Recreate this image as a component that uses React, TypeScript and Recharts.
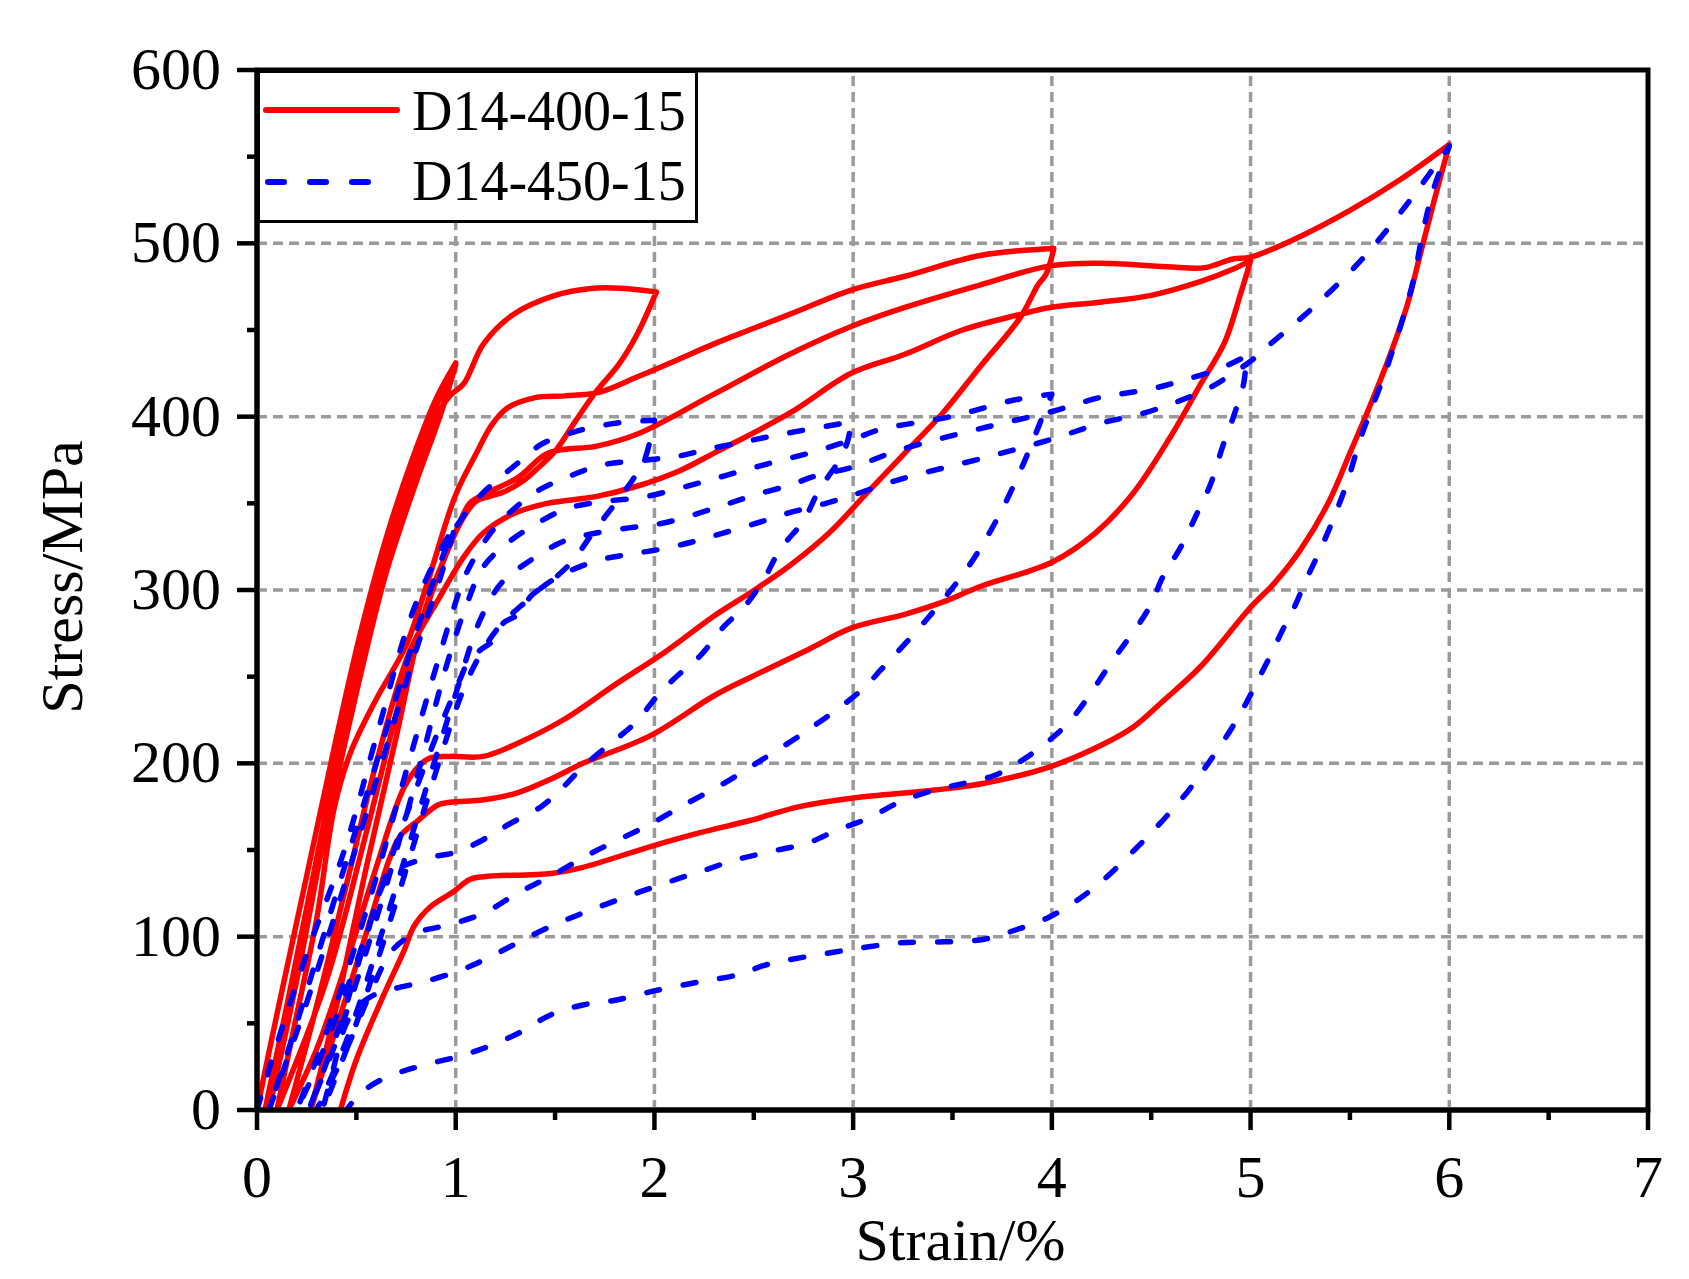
import React from 'react';
import { LineChart, Line, XAxis, YAxis, ReferenceLine, ReferenceArea, Legend } from 'recharts';

type Pt = [number, number];

// axis ticks and grid
const xTicks = [0, 0.5, 1, 1.5, 2, 2.5, 3, 3.5, 4, 4.5, 5, 5.5, 6, 6.5, 7];
const yTicks = [0, 50, 100, 150, 200, 250, 300, 350, 400, 450, 500, 550, 600];
const xGrid = [1, 2, 3, 4, 5, 6];
const yGrid = [100, 200, 300, 400, 500];

// D14-400-15, branches in loading order: [strain %, stress MPa]
const redCycle1: Pt[] = [[0, 0], [0.1, 55], [0.25, 135], [0.4, 215], [0.52, 275], [0.65, 330], [0.78, 375], [0.9, 410], [1.0, 431], [0.94, 408], [0.82, 372], [0.68, 325], [0.57, 283], [0.42, 205], [0.25, 110], [0.1, 30], [0.04, 0]];
const redCycle2: Pt[] = [[0.15, 60], [0.3, 145], [0.45, 230], [0.55, 280], [0.7, 338], [0.84, 390], [0.95, 418], [1.0, 430], [0.92, 400], [0.8, 362], [0.65, 310], [0.55, 265], [0.4, 190], [0.22, 95], [0.06, 0]];
const redLoad2: Pt[] = [[0.2, 75], [0.35, 165], [0.5, 250], [0.6, 290], [0.75, 350], [0.88, 395], [0.97, 412], [1.04, 419], [1.14, 442], [1.29, 459], [1.5, 470], [1.68, 474], [1.85, 474], [2.01, 472]];
const redUnload2: Pt[] = [[1.915, 448], [1.82, 430], [1.71, 415], [1.6, 397], [1.5, 380], [1.42, 371], [1.34, 363], [1.25, 357], [1.17, 354], [1.1, 351], [1.02, 338], [0.9, 305], [0.75, 250], [0.55, 160], [0.35, 75], [0.1, 0]];
const redLoad4: Pt[] = [[0.2, 55], [0.3, 110], [0.39, 175], [0.47, 206], [0.6, 237], [0.75, 268], [0.86, 305], [1.0, 355], [1.1, 378], [1.18, 395], [1.26, 405], [1.4, 411], [1.55, 412], [1.72, 414], [1.915, 423], [2.1, 432], [2.3, 442], [2.5, 451], [2.68, 459], [2.99, 473], [3.26, 481], [3.64, 493], [4.01, 497]];
const redUnload4: Pt[] = [[3.97, 482], [3.93, 476], [3.84, 457], [3.64, 429], [3.45, 402], [3.26, 379], [3.07, 356], [2.88, 333], [2.68, 314], [2.49, 299], [2.3, 285], [2.05, 264], [1.81, 246], [1.54, 225], [1.31, 211.5], [1.14, 204], [0.97, 204], [0.87, 203], [0.82, 199], [0.74, 186], [0.6, 140], [0.45, 85], [0.3, 35], [0.16, 0]];
const redLoad5: Pt[] = [[0.3, 60], [0.45, 130], [0.6, 200], [0.77, 265], [0.91, 294], [1.04, 319], [1.14, 333], [1.29, 344], [1.46, 350], [1.71, 354], [1.915, 360], [2.13, 369], [2.3, 379], [2.68, 402], [2.99, 425], [3.26, 436], [3.55, 450], [3.84, 459], [3.99, 463], [4.24, 466], [4.5, 470], [4.75, 478], [4.91, 485], [5.0, 490]];
const redUnload5: Pt[] = [[4.95, 471], [4.87, 443], [4.75, 419], [4.6, 389], [4.41, 356], [4.22, 333], [4.0, 316], [3.64, 302], [3.45, 293], [3.26, 286], [2.99, 278], [2.78, 266], [2.49, 250], [2.3, 239], [1.98, 216], [1.64, 200], [1.48, 191], [1.31, 183], [1.14, 179], [0.97, 177.5], [0.91, 176], [0.81, 167], [0.72, 158], [0.67, 146], [0.55, 102], [0.39, 44], [0.27, 0]];
const redLoad6: Pt[] = [[0.4, 60], [0.55, 140], [0.7, 215], [0.85, 290], [1.01, 336], [1.07, 350], [1.14, 355], [1.315, 365], [1.466, 379], [1.71, 383], [1.915, 390], [2.3, 413], [2.68, 436], [2.99, 452], [3.26, 463], [3.64, 476], [3.99, 487], [4.24, 488.5], [4.58, 486.5], [4.77, 486], [4.91, 491], [5.0, 492], [5.25, 504], [5.5, 519], [5.75, 536.5], [6.0, 557]];
const redUnload6: Pt[] = [[5.92, 523], [5.85, 492], [5.79, 465], [5.7, 435], [5.6, 406], [5.5, 379], [5.39, 350], [5.25, 323], [5.12, 304], [5.0, 290], [4.75, 256], [4.56, 236], [4.41, 221], [4.24, 210], [3.99, 198], [3.66, 188.5], [3.41, 184.6], [3.0, 180], [2.73, 175], [2.48, 167], [2.23, 160], [1.98, 152], [1.64, 140], [1.48, 136.5], [1.14, 134.6], [1.07, 133], [0.99, 126], [0.87, 117], [0.79, 106], [0.74, 92], [0.64, 67], [0.5, 29], [0.42, 0]];

// D14-450-15
const blueCycle1: Pt[] = [[0, 0], [0.1, 38], [0.25, 90], [0.44, 150], [0.6, 215], [0.77, 283], [0.9, 318], [1.0, 338], [0.93, 310], [0.8, 265], [0.6, 190], [0.4, 115], [0.2, 45], [0.06, 0]];
const blueLoad2: Pt[] = [[0.2, 50], [0.4, 125], [0.6, 200], [0.8, 275], [0.92, 315], [1.0, 336], [1.12, 354], [1.21, 363.5], [1.31, 373], [1.43, 384], [1.59, 391], [1.79, 396], [2.0, 398]];
const blueUnload2: Pt[] = [[1.95, 375], [1.89, 363.5], [1.79, 348], [1.69, 333], [1.59, 317], [1.49, 306], [1.375, 296], [1.325, 286.5], [1.24, 281], [1.19, 271], [1.12, 265], [1.06, 258], [1.02, 248], [0.9, 215], [0.72, 160], [0.5, 85], [0.3, 25], [0.2, 0]];
const blueLoad3: Pt[] = [[0.35, 45], [0.55, 115], [0.75, 195], [0.9, 255], [1.04, 306], [1.107, 321], [1.19, 335], [1.275, 345], [1.41, 357], [1.56, 365], [1.73, 372], [1.96, 375], [2.11, 377], [2.26, 381], [2.43, 385], [2.6, 389], [2.79, 393], [2.99, 397]];
const blueUnload3: Pt[] = [[2.97, 385], [2.92, 373], [2.83, 358], [2.75, 340], [2.63, 323], [2.55, 306], [2.45, 290], [2.35, 279], [2.23, 262], [2.13, 252], [2.03, 241], [1.9, 223], [1.78, 211.5], [1.64, 198], [1.53, 185], [1.43, 175], [1.27, 165], [1.17, 158], [1.01, 149], [0.84, 145], [0.7, 138.5], [0.64, 131], [0.55, 100], [0.42, 50], [0.26, 0]];
const blueLoad4: Pt[] = [[0.4, 40], [0.6, 110], [0.8, 190], [0.95, 255], [1.05, 290], [1.14, 313.5], [1.26, 327], [1.41, 338.5], [1.56, 347], [1.74, 351], [1.94, 353.5], [2.12, 358.5], [2.28, 363.5], [2.45, 369], [2.61, 374], [2.78, 379], [2.99, 386.5], [3.14, 392.7], [3.49, 400], [3.81, 409.6], [4.0, 413]];
const blueUnload4: Pt[] = [[3.96, 402], [3.85, 371], [3.72, 340], [3.58, 313.5], [3.37, 283], [3.14, 254], [3.04, 242], [2.77, 219], [2.47, 197], [2.35, 188.5], [2.15, 176], [1.98, 165], [1.68, 148], [1.48, 135], [1.31, 125], [1.14, 113.5], [0.97, 107], [0.8, 102], [0.68, 92], [0.58, 70], [0.45, 35], [0.3, 0]];
const blueLoad5: Pt[] = [[0.45, 40], [0.65, 110], [0.85, 185], [1.0, 240], [1.12, 282], [1.23, 304], [1.375, 317], [1.54, 328], [1.7, 332.7], [1.88, 336], [2.04, 338.5], [2.2, 343.5], [2.35, 349], [2.51, 355], [2.68, 360.4], [2.8, 365.4], [3.0, 371], [3.24, 381], [3.65, 393.4], [4.0, 403], [4.24, 411], [4.5, 416], [4.66, 421], [4.83, 427], [4.98, 435]];
const blueUnload5: Pt[] = [[4.965, 419], [4.92, 402], [4.86, 383], [4.8, 361.5], [4.73, 344], [4.65, 325], [4.56, 308], [4.5, 292], [4.43, 279], [4.31, 260], [4.11, 227], [3.99, 213.5], [3.84, 201], [3.71, 193], [3.56, 188.5], [3.41, 184.6], [3.24, 178], [3.07, 168], [2.92, 161.5], [2.77, 154], [2.58, 149], [2.4, 144], [2.23, 137.5], [2.15, 134.6], [1.81, 121], [1.48, 106], [1.14, 86.5], [1.01, 80], [0.84, 74], [0.69, 70], [0.6, 67], [0.52, 61], [0.45, 50], [0.38, 22], [0.33, 0]];
const blueLoad6: Pt[] = [[0.5, 50], [0.7, 120], [0.9, 195], [1.03, 240], [1.12, 262], [1.22, 279], [1.35, 293], [1.49, 306], [1.7, 316.5], [1.87, 320.6], [2.03, 323.5], [2.2, 328], [2.35, 333], [2.52, 338.8], [2.68, 344.6], [2.85, 349.6], [3.0, 354.8], [3.24, 364], [3.65, 376], [4.0, 387], [4.24, 396], [4.46, 402], [4.63, 408.6], [4.8, 417], [4.91, 425], [5.0, 432], [5.08, 440], [5.32, 463.5], [5.57, 492], [5.79, 523], [6.0, 556]];
const blueUnload6: Pt[] = [[5.92, 531], [5.87, 508], [5.82, 479], [5.77, 458], [5.72, 440], [5.67, 423], [5.6, 402], [5.55, 386.5], [5.49, 363.5], [5.42, 342], [5.35, 323], [5.28, 306], [5.22, 290], [5.17, 279], [5.09, 260], [4.93, 225], [4.75, 194], [4.65, 179], [4.45, 154], [4.21, 128], [3.99, 111.5], [3.82, 104], [3.66, 98.5], [3.46, 97], [3.24, 96.5], [3.07, 94], [2.9, 91], [2.57, 84], [2.42, 78], [2.23, 74], [2.01, 69], [1.81, 63.5], [1.64, 60.6], [1.48, 55], [1.31, 44], [1.14, 35.6], [1.01, 30.8], [0.81, 25], [0.64, 18.3], [0.52, 9.6], [0.45, 0]];

const toRows = (parts: Pt[][]) => parts.flat().map(([x, y]) => ({ x, y }));

const redData = toRows([redCycle1, redCycle2, redLoad2, redUnload2, redLoad4, redUnload4, redLoad5, redUnload5, redLoad6, redUnload6]);
const blueData = toRows([blueCycle1, blueLoad2, blueUnload2, blueLoad3, blueUnload3, blueLoad4, blueUnload4, blueLoad5, blueUnload5, blueLoad6, blueUnload6]);

const FONT = '"Liberation Serif", "Times New Roman", Times, serif';
const RED = '#ff0000';
const BLUE = '#0000ff';
const GRID = '#9a9a9a';

// centripetal Catmull-Rom that keeps sharp corners at the loop tips
function smoothCurve(context: any) {
  let pts: [number, number][] = [];
  const dist = (a: [number, number], b: [number, number]) => Math.sqrt(Math.hypot(b[0] - a[0], b[1] - a[1]));
  const isCorner = (i: number) => {
    if (i <= 0 || i >= pts.length - 1) return true;
    const ax = pts[i][0] - pts[i - 1][0];
    const ay = pts[i][1] - pts[i - 1][1];
    const bx = pts[i + 1][0] - pts[i][0];
    const by = pts[i + 1][1] - pts[i][1];
    return ax * bx + ay * by < 0;
  };
  return {
    areaStart() {},
    areaEnd() {},
    lineStart() {
      pts = [];
    },
    point(x: number, y: number) {
      pts.push([+x, +y]);
    },
    lineEnd() {
      if (!pts.length) return;
      context.moveTo(pts[0][0], pts[0][1]);
      for (let i = 0; i < pts.length - 1; i++) {
        const p1 = pts[i];
        const p2 = pts[i + 1];
        const p0 = isCorner(i) ? p1 : pts[i - 1];
        const p3 = isCorner(i + 1) ? p2 : pts[i + 2];
        const d1 = dist(p0, p1);
        const d2 = dist(p1, p2);
        const d3 = dist(p2, p3);
        let c1x = p1[0], c1y = p1[1], c2x = p2[0], c2y = p2[1];
        if (d1 > 1e-6) {
          const a = 2 * d1 * d1 + 3 * d1 * d2 + d2 * d2;
          const n = 3 * d1 * (d1 + d2);
          c1x = (p1[0] * a - p0[0] * d2 * d2 + p2[0] * d1 * d1) / n;
          c1y = (p1[1] * a - p0[1] * d2 * d2 + p2[1] * d1 * d1) / n;
        }
        if (d3 > 1e-6) {
          const b = 2 * d3 * d3 + 3 * d3 * d2 + d2 * d2;
          const m = 3 * d3 * (d3 + d2);
          c2x = (p2[0] * b + p1[0] * d3 * d3 - p3[0] * d2 * d2) / m;
          c2y = (p2[1] * b + p1[1] * d3 * d3 - p3[1] * d2 * d2) / m;
        }
        context.bezierCurveTo(c1x, c1y, c2x, c2y, p2[0], p2[1]);
      }
    },
  };
}

function XTick(props: any) {
  const { x, y, payload } = props;
  const major = Number.isInteger(payload.value);
  return (
    <g>
      <line x1={x} y1={y} x2={x} y2={y + (major ? 20 : 10)} stroke="#000" strokeWidth={4.5} />
      {major && (
        <text x={x} y={y + 87} textAnchor="middle" fontFamily={FONT} fontSize={60} fill="#000">
          {payload.value}
        </text>
      )}
    </g>
  );
}

function YTick(props: any) {
  const { x, y, payload } = props;
  const major = payload.value % 100 === 0;
  return (
    <g>
      <line x1={x} y1={y} x2={x - (major ? 20 : 10)} y2={y} stroke="#000" strokeWidth={4.5} />
      {major && (
        <text x={x - 36} y={y + 19} textAnchor="end" fontFamily={FONT} fontSize={60} fill="#000">
          {payload.value}
        </text>
      )}
    </g>
  );
}

function XTitle(props: any) {
  const { x, y, width } = props.viewBox;
  return (
    <text x={x + width / 2 + 8} y={y + 150} textAnchor="middle" fontFamily={FONT} fontSize={60} fill="#000">
      Strain/%
    </text>
  );
}

function YTitle(props: any) {
  const { x, y, height } = props.viewBox;
  const cx = x + 82;
  const cy = y + height / 2 - 13;
  return (
    <text x={cx} y={cy} transform={`rotate(-90 ${cx} ${cy})`} textAnchor="middle" fontFamily={FONT} fontSize={60} fill="#000">
      Stress/MPa
    </text>
  );
}

function LegendBox() {
  return (
    <svg width={441} height={153} style={{ display: 'block' }}>
      <rect x={1.5} y={1.5} width={438} height={150} fill="#fff" stroke="#000" strokeWidth={3} />
      <line x1={9} y1={40} x2={140} y2={40} stroke={RED} strokeWidth={6} strokeLinecap="round" />
      <text x={155} y={60} fontFamily={FONT} fontSize={56} fill="#000">D14-400-15</text>
      <line x1={11} y1={112} x2={118} y2={112} stroke={BLUE} strokeWidth={6} strokeLinecap="round" strokeDasharray="16 26" />
      <text x={155} y={130} fontFamily={FONT} fontSize={56} fill="#000">D14-450-15</text>
    </svg>
  );
}

export default function App() {
  return (
    <div style={{ position: 'absolute', left: 0, top: 0, width: 1689, height: 1279, background: '#fff' }}>
      <LineChart width={1689} height={1279} margin={{ top: 70, right: 41, bottom: 0, left: 0 }}>
        <XAxis
          dataKey="x"
          type="number"
          domain={[0, 7]}
          ticks={xTicks}
          interval={0}
          height={169}
          tickSize={0}
          tickMargin={0}
          tickLine={false}
          tick={<XTick />}
          axisLine={{ stroke: '#000', strokeWidth: 5 }}
          label={<XTitle />}
          allowDataOverflow
        />
        <YAxis
          type="number"
          domain={[0, 600]}
          ticks={yTicks}
          interval={0}
          width={257}
          tickSize={0}
          tickMargin={0}
          tickLine={false}
          tick={<YTick />}
          axisLine={{ stroke: '#000', strokeWidth: 5 }}
          label={<YTitle />}
          allowDataOverflow
        />
        {xGrid.map((v) => (
          <ReferenceLine key={`gx${v}`} x={v} stroke={GRID} strokeWidth={3.5} strokeDasharray="10 6" />
        ))}
        {yGrid.map((v) => (
          <ReferenceLine key={`gy${v}`} y={v} stroke={GRID} strokeWidth={3.5} strokeDasharray="10 6" />
        ))}
        <ReferenceArea x1={0} x2={7} y1={0} y2={600} fill="none" stroke="#000" strokeWidth={5} ifOverflow="visible" />
        <Line
          data={redData}
          dataKey="y"
          name="D14-400-15"
          type={smoothCurve as any}
          stroke={RED}
          strokeWidth={5.5}
          strokeLinejoin="round"
          dot={false}
          activeDot={false}
          isAnimationActive={false}
        />
        <Line
          data={blueData}
          dataKey="y"
          name="D14-450-15"
          type={smoothCurve as any}
          stroke={BLUE}
          strokeWidth={5.5}
          strokeDasharray="13 24"
          strokeLinecap="round"
          strokeLinejoin="round"
          dot={false}
          activeDot={false}
          isAnimationActive={false}
        />
        <Legend
          layout="vertical"
          align="center"
          verticalAlign="middle"
          wrapperStyle={{ left: 257, top: 70, width: 441, height: 153 }}
          content={() => <LegendBox />}
        />
      </LineChart>
    </div>
  );
}
